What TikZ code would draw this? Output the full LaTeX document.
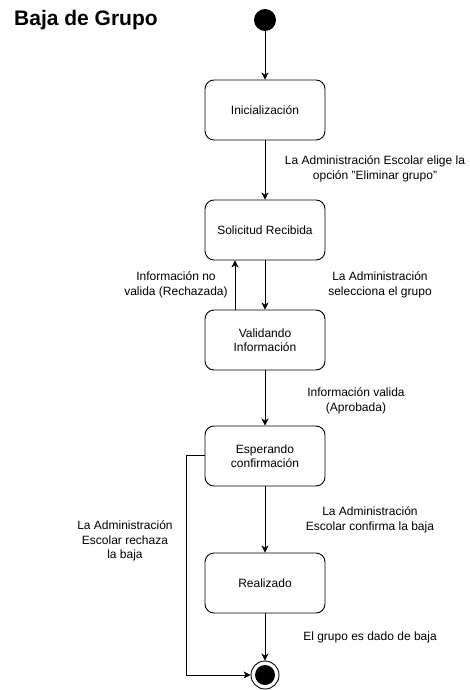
\documentclass[tikz,border=0pt]{standalone}
\usepackage{fontspec}
\setmainfont{Liberation Sans}
\usetikzlibrary{arrows.meta,positioning}

\begin{document}
\begin{tikzpicture}[
  x=1pt, y=1pt,
  state/.style={draw, rounded corners=9pt, line width=0.9pt, minimum height=60pt,
              minimum width=120pt, align=center, font=\fontsize{12}{14.5}\selectfont},
  lbl/.style={align=center, font=\fontsize{12}{14.5}\selectfont, inner sep=0pt},
  arrow/.style={-{Stealth[length=7pt,width=7pt,inset=2pt]}, line width=0.9pt}
]
\useasboundingbox (0,0) rectangle (470,-690);

\node[anchor=west, font=\fontsize{21}{25}\selectfont\bfseries, inner sep=0pt] (title) at (14,-20) {Baja de Grupo};

% estados
\node[circle, fill=black, minimum size=22pt, inner sep=0pt] (start) at (265,-20) {};
\node[state] (ini)  at (265,-110) {Inicialización};
\node[state] (sol)  at (265,-230) {Solicitud Recibida};
\node[state] (val)  at (265,-340) {Validando\\Información};
\node[state] (esp)  at (265,-456) {Esperando\\confirmación};
\node[state] (real) at (265,-583) {Realizado};
\node[circle, draw, line width=0.9pt, minimum size=28pt, inner sep=0pt] (fin) at (265,-675) {};
\node[circle, fill=black, minimum size=20pt, inner sep=0pt] (finin) at (fin) {};

% transiciones
\draw[arrow] (start) -- (ini);
\draw[arrow] (ini) -- (sol);
\draw[arrow] (sol) -- (val);
\draw[arrow] ([xshift=-30pt]val.north) -- ([xshift=-30pt]sol.south);
\draw[arrow] (val) -- (esp);
\draw[arrow] (esp) -- (real);
\draw[arrow] (real) -- (fin);
\draw[arrow] ([yshift=1pt]esp.west) -| (186,-675) -- (fin.west);

% etiquetas
\node[lbl] (l1) at (375,-169) {La Administración Escolar elige la\\opción \char34Eliminar grupo\char34};
\node[lbl] (l2) at (176,-285) {Información no\\valida (Rechazada)};
\node[lbl] (l3) at (380,-285) {La Administración\\selecciona el grupo};
\node[lbl] (l4) at (356,-401) {Información valida\\(Aprobada)};
\node[lbl] (l5) at (370,-520) {La Administración\\Escolar confirma la baja};
\node[lbl] (l6) at (125,-541) {La Administración\\Escolar rechaza\\la baja};
\node[lbl] (l7) at (370,-637) {El grupo es dado de baja};
\end{tikzpicture}
\end{document}
